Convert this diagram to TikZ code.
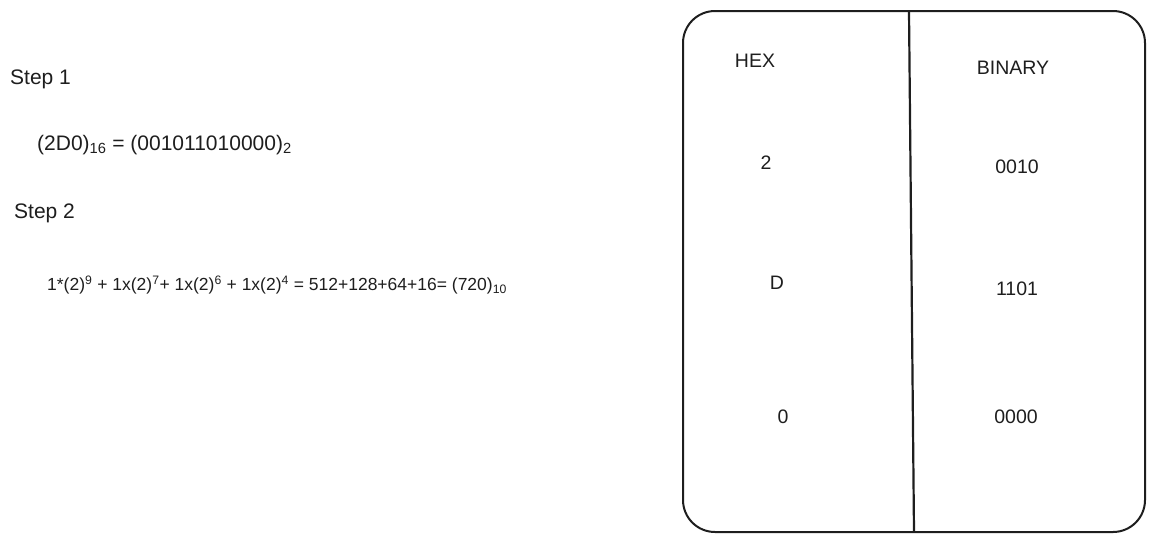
\documentclass[tikz,border=0pt]{standalone}
\usepackage{fontspec}
\setmainfont{Liberation Sans}
\definecolor{ink}{HTML}{1E1E1E}
\begin{document}
\begin{tikzpicture}[x=1pt,y=-1pt,
  txt/.style={font=\fontsize{19.5}{23}\selectfont, text=ink, inner sep=0pt},
  ltxt/.style={txt, anchor=west},
  bigtxt/.style={ltxt, font=\fontsize{21}{25}\selectfont},
  eqtxt/.style={ltxt, font=\fontsize{17.5}{21}\selectfont},
  frame/.style={draw=ink, line width=2pt, rounded corners=32pt},
  divider/.style={draw=ink, line width=2.2pt}]
\useasboundingbox (0,0) rectangle (1154,542);
% left text
\node[bigtxt] (s1) at (10,79) {Step 1};
\node[bigtxt] (e1) at (37,145) {(2D0)\textsubscript{16} = (001011010000)\textsubscript{2}};
\node[bigtxt] (s2) at (14,213) {Step 2};
\node[eqtxt] (e2) at (47,285) {1*(2)\textsuperscript{9} + 1x(2)\textsuperscript{7}+ 1x(2)\textsuperscript{6} + 1x(2)\textsuperscript{4} = 512+128+64+16= (720)\textsubscript{10}};
% table
\draw[frame] (683,11) rectangle (1145,532);
\coordinate (dtop) at (909,11);
\coordinate (dbot) at (914,532);
\draw[divider] (dtop) -- (dbot);
\node[txt] (hex) at (755,61) {HEX};
\node[txt] (bin) at (1013,68) {BINARY};
\node[txt] (h1) at (766,163) {2};
\node[txt] (b1) at (1017,167) {0010};
\node[txt] (h2) at (777,283) {D};
\node[txt] (b2) at (1017,289) {1101};
\node[txt] (h3) at (783,417) {0};
\node[txt] (b3) at (1016,417) {0000};
\end{tikzpicture}
\end{document}
